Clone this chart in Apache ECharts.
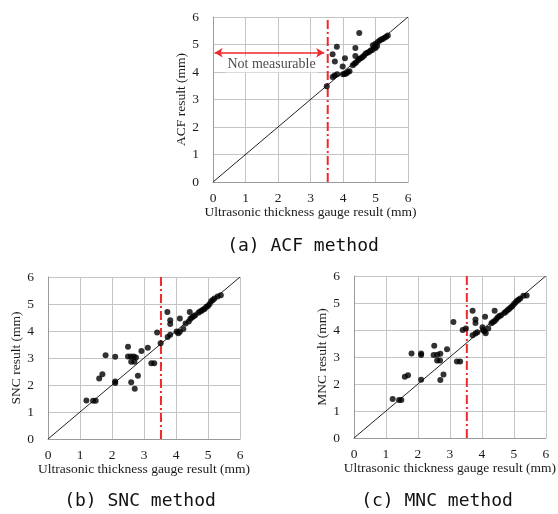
<!DOCTYPE html>
<html>
<head>
<meta charset="utf-8">
<script src="https://cdn.jsdelivr.net/npm/echarts@6/dist/echarts.min.js"></script>
<style>
  html, body { margin: 0; padding: 0; background: #fff; }
  #main { width: 558px; height: 514px; }
</style>
</head>
<body>
<div id="main"></div>
<script>
// axis ticks shared by all three panels
const axisTicks = [0, 1, 2, 3, 4, 5, 6];
const limitX = 3.53; // measurable limit (red dash-dot line)

// (a) ACF method: [ultrasonic, ACF]
const acfPoints = [
  [3.5, 3.48], [3.68, 4.65], [3.81, 4.92], [3.75, 4.38], [3.68, 3.82], [3.74, 3.87],
  [3.82, 3.92], [3.99, 4.2], [4.0, 3.92], [4.05, 3.93], [4.1, 3.95], [4.06, 4.5],
  [4.15, 4.0], [4.2, 4.03], [4.5, 5.42], [4.38, 4.87], [4.38, 4.58], [4.3, 4.25],
  [4.35, 4.3], [4.4, 4.35], [4.46, 4.42], [4.5, 4.48], [4.55, 4.5], [4.6, 4.55],
  [4.65, 4.6], [4.7, 4.67], [4.75, 4.7], [4.8, 4.73], [4.85, 4.78], [4.9, 4.8],
  [4.92, 4.97], [4.97, 4.9], [5.0, 5.03], [5.0, 4.87], [5.05, 4.95], [5.07, 5.09],
  [5.13, 5.15], [5.18, 5.18], [5.22, 5.2], [5.28, 5.25], [5.33, 5.28], [5.38, 5.33]
];

// (b) SNC method: [ultrasonic, SNC]
const sncPoints = [
  [1.2, 1.43], [1.41, 1.42], [1.49, 1.42], [1.6, 2.24], [1.7, 2.4], [1.8, 3.1],
  [2.1, 3.05], [2.1, 2.13], [2.1, 2.07], [2.5, 3.42], [2.5, 3.06], [2.59, 3.06],
  [2.68, 3.06], [2.6, 2.86], [2.7, 2.86], [2.75, 3.02], [2.6, 2.1], [2.71, 1.86],
  [2.81, 2.34], [2.92, 3.26], [3.12, 3.38], [3.23, 2.81], [3.32, 2.81], [3.41, 3.94],
  [3.52, 3.55], [3.73, 4.7], [3.82, 4.4], [3.82, 4.26], [3.74, 3.78], [3.82, 3.86],
  [4.02, 3.98], [4.07, 3.92], [4.12, 3.97], [4.12, 4.46], [4.23, 4.07], [4.43, 4.7],
  [4.3, 4.28], [4.4, 4.35], [4.45, 4.45], [4.5, 4.5], [4.55, 4.55], [4.6, 4.58],
  [4.7, 4.68], [4.75, 4.72], [4.8, 4.75], [4.85, 4.8], [4.9, 4.82], [4.95, 4.9],
  [5.0, 4.93], [5.05, 5.0], [5.1, 5.1], [5.15, 5.15], [5.2, 5.2], [5.3, 5.28], [5.4, 5.32]
];

// (c) MNC method: [ultrasonic, MNC]
const mncPoints = [
  [1.21, 1.44], [1.41, 1.41], [1.48, 1.41], [1.59, 2.27], [1.69, 2.32], [1.8, 3.13],
  [2.1, 3.13], [2.1, 3.07], [2.1, 2.16], [2.51, 3.42], [2.49, 3.07], [2.6, 3.08],
  [2.7, 3.12], [2.6, 2.87], [2.69, 2.87], [2.7, 2.15], [2.8, 2.35], [2.91, 3.29],
  [3.11, 4.3], [3.22, 2.83], [3.32, 2.83], [3.4, 4.0], [3.5, 4.06], [3.71, 4.71],
  [3.8, 4.39], [3.8, 4.26], [3.71, 3.81], [3.8, 3.87], [3.86, 3.92], [4.02, 4.1],
  [4.04, 4.0], [4.08, 3.95], [4.12, 3.88], [4.1, 4.49], [4.2, 4.06], [4.4, 4.71],
  [4.3, 4.25], [4.35, 4.3], [4.4, 4.33], [4.45, 4.4], [4.5, 4.47], [4.55, 4.52],
  [4.6, 4.55], [4.7, 4.63], [4.75, 4.68], [4.8, 4.73], [4.85, 4.78], [4.9, 4.83],
  [4.95, 4.88], [5.0, 4.95], [5.05, 5.02], [5.1, 5.08], [5.15, 5.12], [5.2, 5.17],
  [5.3, 5.27], [5.4, 5.28]
];

const panelNames = ['ACF result (mm)', 'SNC result (mm)', 'MNC result (mm)'];
const captions = ['(a) ACF method', '(b) SNC method', '(c) MNC method'];
const xName = 'Ultrasonic thickness gauge result (mm)';
const noteText = 'Not measurable';
const notePos = [1.8, 4.27];
const arrowFrom = [0.05, 4.7];
const arrowTo = [3.42, 4.7];

const serif = 'Liberation Serif';
const gridColor = '#c4c4c4';

const grids = [
  { left: 213, top: 17, width: 195, height: 165 },
  { left: 48, top: 277, width: 192, height: 162 },
  { left: 354, top: 276, width: 194, height: 162 }
];
const yNameGaps = [24, 25, 21];

const valueAxis = (i, isX) => ({
  type: 'value',
  gridIndex: i,
  min: axisTicks[0],
  max: axisTicks[axisTicks.length - 1],
  interval: 1,
  name: isX ? xName : panelNames[i],
  nameLocation: 'middle',
  nameGap: isX ? 23 : yNameGaps[i],
  nameTextStyle: { fontFamily: serif, fontSize: 13.5, color: '#1a1a1a' },
  axisLine: { show: true, lineStyle: { color: '#9a9a9a', width: 1 } },
  axisTick: { show: false },
  axisLabel: {
    fontFamily: serif, fontSize: 13.5, color: '#1a1a1a',
    margin: isX ? 9 : 14
  },
  splitLine: { show: true, lineStyle: { color: gridColor, width: 1 } }
});

const xAxes = [0, 1, 2].map(i => valueAxis(i, true));
const yAxes = [0, 1, 2].map(i => valueAxis(i, false));

const series = [];
[acfPoints, sncPoints, mncPoints].forEach((pts, i) => {
  // 1:1 reference line
  series.push({
    type: 'line', xAxisIndex: i, yAxisIndex: i, silent: true,
    data: [[axisTicks[0], axisTicks[0]], [axisTicks[6], axisTicks[6]]],
    symbol: 'none',
    lineStyle: { color: '#222', width: 1 }
  });
  // measurable limit
  series.push({
    type: 'line', xAxisIndex: i, yAxisIndex: i, silent: true,
    data: [[limitX, axisTicks[0]], [limitX, axisTicks[6]]],
    symbol: 'none',
    lineStyle: { color: '#ee2a2a', width: 2, type: [9, 3, 2, 3] },
    z: 3
  });
  series.push({
    type: 'scatter', xAxisIndex: i, yAxisIndex: i,
    data: pts,
    symbolSize: 6,
    itemStyle: { color: '#000' },
    z: 5
  });
});

// annotation on panel (a)
series.push({
  type: 'scatter', xAxisIndex: 0, yAxisIndex: 0, silent: true,
  data: [notePos],
  symbolSize: 0,
  label: {
    show: true, position: 'inside', formatter: noteText,
    fontFamily: serif, fontSize: 14, color: '#1a1a1a',
    backgroundColor: '#fff', padding: [1, 2]
  },
  markLine: {
    silent: true,
    symbol: ['arrow', 'arrow'],
    symbolSize: [7, 8],
    label: { show: false },
    lineStyle: { color: '#ee2a2a', width: 1.5, type: 'solid' },
    data: [[{ coord: arrowFrom }, { coord: arrowTo }]]
  },
  z: 4
});

const captionPos = [[298, 232], [135, 487], [432, 487]];
const title = captions.map((t, i) => ({
  text: t,
  left: captionPos[i][0],
  top: captionPos[i][1],
  textAlign: 'center',
  textStyle: { fontFamily: 'DejaVu Sans Mono', fontSize: 18, fontWeight: 'normal', color: '#111' }
}));

const chart = echarts.init(document.getElementById('main'), null, { renderer: 'canvas' });
chart.setOption({
  animation: false,
  backgroundColor: '#fff',
  title: title,
  grid: grids,
  xAxis: xAxes,
  yAxis: yAxes,
  series: series
});
</script>
</body>
</html>
